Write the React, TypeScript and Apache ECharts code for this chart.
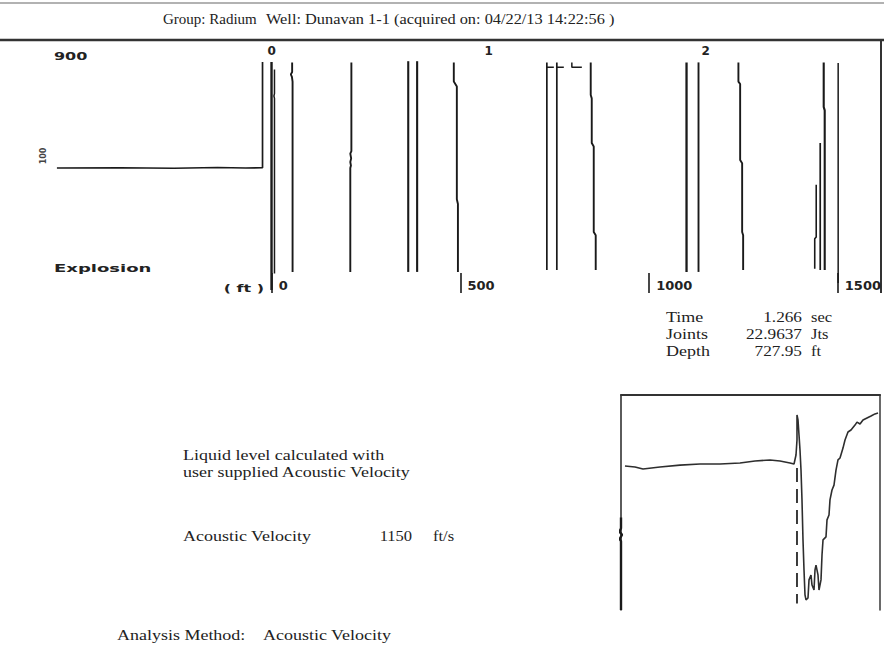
import React, { useEffect, useRef } from "react";
import * as echarts from "echarts";

// ---- header / text data ----
const headerGroup = "Group: Radium";
const headerWell = "Well: Dunavan 1-1 (acquired on: 04/22/13 14:22:56 )";
const noteLines = ["Liquid level calculated with", "user supplied Acoustic Velocity"];
const velocityLabel = "Acoustic Velocity";
const velocity = 1150; // ft/s
const velocityUnit = "ft/s";
const analysisLabel = "Analysis Method:";
const analysisValue = "Acoustic Velocity";
const readoutLabels = ["Time", "Joints", "Depth"];
const readoutValues = ["1.266", "22.9637", "727.95"];
const readoutUnits = ["sec", "Jts", "ft"];

// ---- axes ----
const timeMin = -1;
const timeMax = 2.8;
const timeTicks = [0, 1, 2];
const depthTicks = [0, 500, 1000, 1500];
const gainLabel = "900";

// ---- main record traces: [time (s), amplitude] ----
const explosionTrace = [[-0.99, 55], [-0.7, 55.1], [-0.45, 54.9], [-0.25, 55.2], [-0.12, 55], [-0.0425, 55.1], [-0.0425, 99.2]];
const zeroTraceA = [[-0.001, 99.2], [-0.001, 4.2]];
const zeroTraceB = [[0.0126, 96], [0.0126, 86], [0.010, 85], [0.0126, 84], [0.0126, 11]];
const trace1 = [[0.094, 99], [0.094, 95], [0.088, 94], [0.093, 93], [0.096, 91], [0.096, 11.7]];
const trace2 = [[0.367, 99], [0.367, 62], [0.362, 61], [0.366, 59], [0.362, 57.5], [0.365, 56], [0.362, 55], [0.362, 11.7]];
const trace3 = [[0.629, 99.5], [0.629, 11.7]];
const trace4 = [[0.670, 99.5], [0.670, 11.7]];
const trace5 = [[0.839, 99], [0.839, 91], [0.853, 89], [0.853, 42], [0.858, 40], [0.858, 11.7]];
const trace6 = [[1.2678, 99], [1.2678, 12.5]];
const trace7 = [[1.3138, 99], [1.3138, 12.5]];
const markA = [[1.2678, 97], [1.30, 97]];
const markB = [[1.3138, 97], [1.346, 97]];
const markC = [[1.383, 99], [1.383, 97], [1.429, 97]];
const trace8 = [[1.470, 99], [1.470, 85.4], [1.4747, 84], [1.4747, 65.4], [1.4839, 64], [1.4839, 28.3], [1.493, 27], [1.493, 12.5]];
const trace9 = [[1.9115, 99], [1.9115, 11.7]];
const trace10 = [[1.9667, 99], [1.9667, 11.7]];
const trace11 = [[2.1506, 99], [2.1506, 91], [2.1586, 90], [2.1586, 58.3], [2.1678, 57], [2.1678, 28.3], [2.1724, 27], [2.1724, 12.5]];
const trace12 = [[2.5437, 99], [2.5437, 80.4], [2.5483, 79], [2.5483, 12.5]];
const trace13 = [[2.5276, 65.4], [2.5276, 12.5]];
const trace14 = [[2.5092, 48], [2.5092, 26.25], [2.5023, 25.5], [2.5023, 13]];
const trace15 = [[2.6103, 98.7], [2.6103, 7.1]];

const mainTraces = [
  { d: explosionTrace, w: 1.7 },
  { d: zeroTraceA, w: 2.4 },
  { d: zeroTraceB, w: 1.5 },
  { d: trace1, w: 1.9 },
  { d: trace2, w: 1.9 },
  { d: trace3, w: 2.1 },
  { d: trace4, w: 2.1 },
  { d: trace5, w: 1.9 },
  { d: trace6, w: 1.7 },
  { d: trace7, w: 1.7 },
  { d: markA, w: 1.5 },
  { d: markB, w: 1.5 },
  { d: markC, w: 1.5 },
  { d: trace8, w: 1.9 },
  { d: trace9, w: 2.3 },
  { d: trace10, w: 1.9 },
  { d: trace11, w: 1.9 },
  { d: trace12, w: 2.1 },
  { d: trace13, w: 1.7 },
  { d: trace14, w: 1.6 },
  { d: trace15, w: 1.5 },
];

// ---- inset (zoom on liquid level) ----
const insetTrace = [
  [1.54, 67.0], [5.41, 66.5], [8.49, 65.6], [15.06, 66.5], [22.78, 67.4], [30.5, 67.9], [38.22, 67.9],
  [45.95, 68.4], [51.74, 69.3], [57.53, 69.8], [61.39, 69.3], [65.25, 68.4], [66.8, 67.9], [67.57, 72.1],
  [67.95, 79.1], [67.95, 90.7], [68.34, 88.4], [68.73, 81.4], [69.11, 74.4], [69.5, 65.1], [69.88, 51.2],
  [70.27, 32.6], [70.66, 18.6], [71.04, 7.0], [71.43, 4.7], [72.2, 5.6], [72.59, 14.0], [73.36, 16.3],
  [73.75, 11.6], [74.52, 9.3], [74.9, 18.6], [75.29, 20.9], [76.06, 16.3], [76.45, 9.3], [77.22, 14.0],
  [77.61, 25.6], [78.0, 32.6], [79.15, 34.0], [79.54, 41.9], [80.31, 44.2], [80.69, 51.2], [81.47, 55.8],
  [82.24, 58.1], [83.01, 65.1], [83.78, 69.8], [84.56, 70.7], [85.71, 75.3], [86.49, 79.1], [87.64, 82.8],
  [88.8, 83.7], [90.35, 86.0], [91.12, 87.4], [92.28, 86.5], [93.44, 88.4], [94.98, 89.3], [96.53, 90.2],
  [98.07, 91.2], [99.23, 91.6],
];
const insetMarker = [[67.95, 66], [67.95, 3]];
const insetLeftEdge = [[0, 43], [0, 38], [-0.6, 36.5], [0.4, 35], [-0.5, 33], [0, 32], [0, 0]];

const INK = "#1a1a1a";
const TEXT = "#222";
const SERIF = '"Liberation Serif", "DejaVu Serif", serif';
const BLOCK = '"DejaVu Sans", sans-serif';

export default function App() {
  const ref = useRef<HTMLDivElement>(null);
  useEffect(() => {
    if (!ref.current) return;
    const chart = echarts.init(ref.current, null, { renderer: "svg" });
    const half = velocity / 2;

    const series: any[] = mainTraces.map((t) => ({
      type: "line",
      xAxisIndex: 0,
      yAxisIndex: 0,
      data: t.d,
      showSymbol: false,
      silent: true,
      lineStyle: { color: INK, width: t.w },
    }));
    series.push(
      {
        type: "line", xAxisIndex: 2, yAxisIndex: 1, data: insetTrace, showSymbol: false, silent: true,
        lineStyle: { color: "#2e2e2e", width: 1.6 },
      },
      {
        type: "line", xAxisIndex: 2, yAxisIndex: 1, data: insetMarker, showSymbol: false, silent: true,
        lineStyle: { color: INK, width: 1.7, type: [14, 7] },
      },
      {
        type: "line", xAxisIndex: 2, yAxisIndex: 1, data: insetLeftEdge, showSymbol: false, silent: true,
        clip: false, lineStyle: { color: INK, width: 2.4 },
      }
    );

    const serifText = (x: number, y: number, text: string, size = 15, align = "left", sx = 1.2) => ({
      type: "text", x, y, scaleX: sx, silent: true,
      style: { text, font: `${size}px ${SERIF}`, fill: TEXT, align, verticalAlign: "middle" },
    });

    const graphic: any[] = [
      { type: "line", silent: true, shape: { x1: 0, y1: 3, x2: 884, y2: 3 }, style: { stroke: "#666", lineWidth: 1.2 } },
      { type: "line", silent: true, shape: { x1: 0, y1: 40, x2: 884, y2: 40 }, style: { stroke: "#333", lineWidth: 2.4 } },
      { type: "line", silent: true, shape: { x1: 881, y1: 40, x2: 881, y2: 293 }, style: { stroke: "#333", lineWidth: 2 } },
      serifText(163, 19, headerGroup, 15, "left", 1.0),
      serifText(266, 19, headerWell, 15, "left", 1.09),
      {
        type: "text", x: 54, y: 57, scaleX: 1.6, silent: true,
        style: { text: gainLabel, font: `bold 10px ${BLOCK}`, fill: TEXT, verticalAlign: "middle" },
      },
      {
        type: "text", x: 54, y: 268, scaleX: 1.8, silent: true,
        style: { text: "Explosion", font: `bold 10px ${BLOCK}`, fill: TEXT, verticalAlign: "middle" },
      },
      {
        type: "text", x: 264, y: 289, scaleX: 1.6, silent: true,
        style: { text: "( ft )", font: `bold 10px ${BLOCK}`, fill: TEXT, align: "right", verticalAlign: "middle" },
      },
      {
        type: "text", x: 43, y: 156, rotation: Math.PI / 2, silent: true,
        style: { text: "100", font: `bold 8px ${BLOCK}`, fill: "#444", align: "center", verticalAlign: "middle" },
      },
      serifText(183, 455, noteLines[0]),
      serifText(183, 472, noteLines[1]),
      serifText(183, 536, velocityLabel),
      serifText(412, 536, String(velocity), 15, "right", 1.1),
      serifText(433, 536, velocityUnit, 15, "left", 1.1),
      serifText(117, 635, analysisLabel),
      serifText(263, 635, analysisValue),
    ];
    readoutLabels.forEach((lab, i) => {
      const y = 317 + i * 17;
      graphic.push(serifText(666, y, lab, 15, "left", 1.2));
      graphic.push(serifText(802, y, readoutValues[i], 15, "right", 1.15));
      graphic.push(serifText(811, y, readoutUnits[i], 15, "left", 1.1));
    });

    chart.setOption({
      animation: false,
      backgroundColor: "#ffffff",
      grid: [
        { left: 54.75, top: 60, width: 826.5, height: 240 },
        { left: 621, top: 395, width: 259, height: 215 },
      ],
      xAxis: [
        {
          gridIndex: 0, type: "value", position: "top", min: timeMin, max: timeMax, interval: 1,
          axisLine: { show: false, onZero: false }, axisTick: { show: false }, splitLine: { show: false },
          axisLabel: {
            customValues: timeTicks, margin: 3, color: TEXT,
            fontFamily: BLOCK, fontWeight: "bold", fontSize: 12,
          },
        },
        {
          gridIndex: 0, type: "value", position: "bottom", offset: -7,
          min: timeMin * half, max: timeMax * half,
          axisLine: { show: false, onZero: false }, splitLine: { show: false },
          axisTick: { show: true, inside: true, length: 20, customValues: depthTicks, lineStyle: { color: INK, width: 1.6 } },
          axisLabel: {
            customValues: depthTicks, inside: true, margin: 1, align: "left", verticalAlign: "bottom",
            padding: [0, 0, 0, 7], color: TEXT, fontFamily: BLOCK, fontWeight: "bold", fontSize: 13,
            formatter: (v: number) => String(v),
          },
        },
        {
          gridIndex: 1, type: "value", position: "top", min: 0, max: 100,
          axisLine: { show: true, onZero: false, lineStyle: { color: "#333", width: 2 } },
          axisTick: { show: false }, axisLabel: { show: false }, splitLine: { show: false },
        },
      ],
      yAxis: [
        { gridIndex: 0, type: "value", min: 0, max: 100, show: false },
        {
          gridIndex: 1, type: "value", min: 0, max: 100, position: "left",
          axisLine: { show: true, onZero: false, lineStyle: { color: "#333", width: 1.6 } },
          axisTick: { show: false }, axisLabel: { show: false }, splitLine: { show: false },
        },
        {
          gridIndex: 1, type: "value", min: 0, max: 100, position: "right",
          axisLine: { show: true, onZero: false, lineStyle: { color: "#444", width: 1.6 } },
          axisTick: { show: false }, axisLabel: { show: false }, splitLine: { show: false },
        },
      ],
      series,
      graphic,
    });
    return () => chart.dispose();
  }, []);
  return (
    <div
      ref={ref}
      style={{ position: "fixed", left: 0, top: 0, width: 884, height: 651, background: "#fff" }}
    />
  );
}
